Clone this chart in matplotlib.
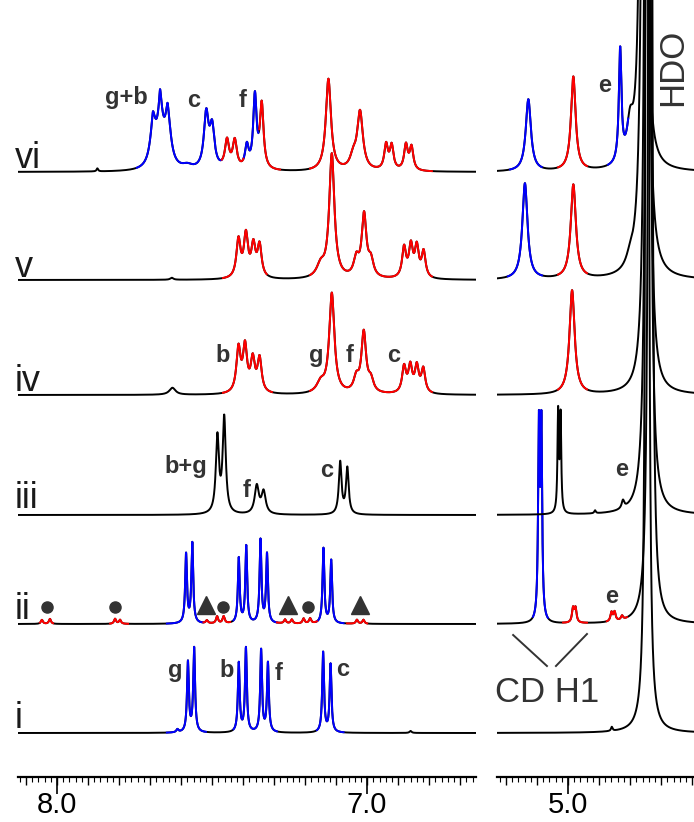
import numpy as np
import matplotlib.pyplot as plt
from matplotlib.ticker import MultipleLocator

plt.rcParams['font.family'] = ['Liberation Sans', 'DejaVu Sans']

# ---------------------------------------------------------------------------
# Peak tables: (shift / ppm, height, half width / ppm).
# Heights are in plot units (1 unit ~ 1 px of the original figure).
# ---------------------------------------------------------------------------
peaks_i = [
    (7.612, 3, 0.004),
    (7.578, 70, 0.0035), (7.558, 84, 0.0035),     # g
    (7.414, 69, 0.0035), (7.391, 84, 0.0035),     # b
    (7.342, 82, 0.0035), (7.320, 69, 0.0035),     # f
    (7.142, 80, 0.0035), (7.118, 68, 0.0035),     # c
    (6.860, 2, 0.004),
    (4.859, 4, 0.003),
    (4.745, 4000, 0.0027),                        # HDO
]
peaks_ii = [
    (8.049, 4, 0.004), (8.023, 5, 0.004),
    (7.813, 5, 0.004), (7.797, 4, 0.004),
    (7.584, 69, 0.0035), (7.564, 80, 0.0035),
    (7.517, 3, 0.004), (7.484, 7, 0.004), (7.463, 7, 0.004),
    (7.414, 65, 0.0035), (7.390, 77, 0.0035),
    (7.344, 83, 0.0035), (7.323, 69, 0.0035),
    (7.265, 4, 0.004), (7.243, 4, 0.004), (7.205, 5, 0.004), (7.184, 5, 0.004),
    (7.141, 75, 0.0035), (7.116, 63, 0.0035),
    (7.033, 4, 0.004), (7.012, 4, 0.004),
    (5.094, 190, 0.003), (5.086, 190, 0.003),     # CD H1 (complexed)
    (4.984, 14, 0.004), (4.976, 14, 0.004),       # CD H1 (free)
    (4.860, 9, 0.004), (4.850, 9, 0.004), (4.826, 4, 0.004),   # e
    (4.735, 4000, 0.003),                         # HDO
]
peaks_iii = [
    (7.483, 76, 0.006), (7.461, 95, 0.006),       # b+g
    (7.356, 28, 0.008), (7.334, 22, 0.008),       # f
    (7.087, 52, 0.0052), (7.064, 46, 0.0052),     # c
    (5.032, 100, 0.0025), (5.024, 96, 0.0025),
    (4.913, 3, 0.003),
    (4.823, 8, 0.005),                            # e
    (4.742, 4000, 0.0035),                        # HDO
]
peaks_iv = [
    (7.628, 7, 0.012),
    (7.415, 44, 0.008), (7.394, 45, 0.008), (7.369, 32, 0.008), (7.347, 34, 0.008),  # b
    (7.150, 10, 0.015), (7.114, 100, 0.010),      # g
    (7.035, 14, 0.010), (7.011, 60, 0.009), (6.988, 12, 0.010),   # f
    (6.881, 26, 0.0075), (6.861, 26, 0.0075), (6.840, 26, 0.0075), (6.819, 24, 0.0075),  # c
    (4.987, 104, 0.010),
    (4.745, 4000, 0.0035),                        # HDO
]
peaks_v = [
    (7.630, 2, 0.006),
    (7.415, 38, 0.008), (7.391, 42, 0.008), (7.367, 31, 0.008), (7.347, 32, 0.008),
    (7.150, 12, 0.015), (7.114, 124, 0.010),
    (7.035, 18, 0.010), (7.010, 62, 0.009), (6.988, 16, 0.010),
    (6.881, 30, 0.0075), (6.859, 31, 0.0075), (6.840, 30, 0.0075), (6.818, 26, 0.0075),
    (5.139, 96, 0.010), (4.983, 94, 0.010),
    (4.800, 10, 0.015),
    (4.752, 4000, 0.004),                         # HDO
]
peaks_vi = [
    (7.870, 3, 0.003),
    (7.690, 40, 0.012), (7.667, 50, 0.012), (7.643, 48, 0.012),   # g+b
    (7.691, 7, 0.003), (7.668, 14, 0.003), (7.644, 7, 0.003),
    (7.580, 4, 0.02),
    (7.519, 54, 0.009), (7.500, 40, 0.009),       # c
    (7.452, 28, 0.008), (7.427, 28, 0.008),
    (7.388, 22, 0.007), (7.362, 72, 0.0065),      # f
    (7.340, 64, 0.007),
    (7.125, 92, 0.010),
    (7.045, 12, 0.012), (7.023, 58, 0.011),
    (6.939, 25, 0.007), (6.921, 24, 0.007), (6.875, 25, 0.007), (6.857, 23, 0.007),
    (5.128, 72, 0.010), (4.983, 94, 0.009),
    (4.832, 112, 0.005),                          # e
    (4.800, 35, 0.012),
    (4.758, 4000, 0.0035),                        # HDO
]

# coloured stretches (high ppm, low ppm)
blue_i = [(7.646, 7.520), (7.431, 7.291), (7.162, 7.076)]
red_i = []
blue_ii = [(7.646, 7.528), (7.431, 7.291), (7.162, 7.076), (5.113, 5.065)]
red_ii = [(8.055, 8.013), (7.829, 7.771), (7.528, 7.442), (7.291, 7.162),
          (7.065, 7.000), (5.016, 4.939), (4.875, 4.810)]
blue_iii = []
red_iii = []
blue_iv = []
red_iv = [(7.465, 7.307), (7.184, 6.791), (5.032, 4.939)]
blue_v = [(5.194, 5.084)]
red_v = [(7.465, 7.324), (7.184, 6.791), (5.032, 4.939)]
blue_vi = [(7.743, 7.469), (7.399, 7.351), (5.187, 5.085), (4.871, 4.806)]
red_vi = [(7.469, 7.399), (7.348, 7.281), (7.184, 6.791), (5.032, 4.939)]

names = ['i', 'ii', 'iii', 'iv', 'v', 'vi']
all_peaks = [peaks_i, peaks_ii, peaks_iii, peaks_iv, peaks_v, peaks_vi]
all_blue = [blue_i, blue_ii, blue_iii, blue_iv, blue_v, blue_vi]
all_red = [red_i, red_ii, red_iii, red_iv, red_v, red_vi]

# marked impurity signals in trace ii
ii_circle_ppm = [8.031, 7.813, 7.465, 7.190]
ii_triangle_ppm = [7.519, 7.255, 7.023]

# ---------------------------------------------------------------------------
W, H = 694, 822
offsets = [44, 153, 262, 382, 497, 605]      # baseline of each trace
LW = 1.4
BLUE, RED, TXT = '#0000ff', '#ff0000', '#333333'


def trace(x, peaks):
    y = np.zeros_like(x)
    for c, h, w in peaks:
        y += h * w ** 2 / ((x - c) ** 2 + w ** 2)
    return y


fig = plt.figure(figsize=(W / 100, H / 100), dpi=100)
ax_l = fig.add_axes([18 / W, 45 / H, 458 / W, 777 / H])
ax_r = fig.add_axes([497 / W, 45 / H, 197 / W, 777 / H])
ax_l.set_xlim(8.126, 6.649)
ax_r.set_xlim(5.229, 4.594)

grids = [(ax_l, np.linspace(8.126, 6.649, 8000)),
         (ax_r, np.linspace(5.229, 4.594, 5000))]

for off, peaks, blues, reds in zip(offsets, all_peaks, all_blue, all_red):
    for ax, xs in grids:
        y = trace(xs, peaks) + off
        ax.plot(xs, y, color='black', lw=LW)
        for segs, col in ((blues, BLUE), (reds, RED)):
            for hi, lo in segs:
                m = (xs <= hi) & (xs >= lo)
                if m.any():
                    ax.plot(xs[m], y[m], color=col, lw=LW)

ax_l.plot(ii_circle_ppm, [offsets[1] + 17] * len(ii_circle_ppm), 'o',
          color=TXT, ms=8, clip_on=False)
ax_l.plot(ii_triangle_ppm, [offsets[1] + 19] * len(ii_triangle_ppm), '^',
          color=TXT, ms=13, clip_on=False)

for ax, big in ((ax_l, [8.0, 7.0]), (ax_r, [5.0])):
    ax.set_ylim(0, 777)
    for s in ('top', 'left', 'right'):
        ax.spines[s].set_visible(False)
    ax.spines['bottom'].set_linewidth(1.6)
    ax.set_yticks([])
    ax.xaxis.set_major_locator(MultipleLocator(0.1))
    ax.xaxis.set_minor_locator(MultipleLocator(0.02))
    ax.tick_params(which='major', length=6, width=1.0, labelbottom=False)
    ax.tick_params(which='minor', length=3.5, width=0.8)
    sec = ax.secondary_xaxis('bottom')
    sec.spines['bottom'].set_visible(False)
    sec.set_xticks(big)
    sec.set_xticklabels([f'{v:.1f}' for v in big])
    sec.tick_params(length=12, width=1.2, labelsize=21, pad=-2.2)


def ftext(x, y, s, **kw):
    fig.text(x / W, 1 - y / H, s, **kw)


# trace names
for name, yb in zip(names, [728, 619, 508, 391, 277, 168]):
    ftext(15, yb, name, fontsize=26, color='#1a1a1a', va='baseline', ha='left')

bold = dict(fontsize=17, fontweight='bold', color=TXT, ha='center', va='baseline')
for s, x, y in [('g+b', 126, 104), ('c', 194, 107), ('f', 243, 107), ('e', 605, 92),
                ('b', 223, 362), ('g', 316, 362), ('f', 350, 362), ('c', 394, 362),
                ('b+g', 186, 473), ('f', 247, 497), ('c', 327, 477), ('e', 622, 476),
                ('e', 612, 603),
                ('g', 175, 677), ('b', 227, 677), ('f', 279, 680), ('c', 343, 676)]:
    ftext(x, y, s, **bold)

ftext(673, 67, 'HDO', fontsize=25, color=TXT, rotation=90, ha='center', va='center')
ftext(495, 702, 'CD H1', fontsize=25, color=TXT, ha='left', va='baseline')
ax_r.plot([5.177, 5.068], [142, 111], color=TXT, lw=1.4, clip_on=False)
ax_r.plot([5.039, 4.939], [111, 143], color=TXT, lw=1.4, clip_on=False)

fig.savefig('out.png', dpi=100)
